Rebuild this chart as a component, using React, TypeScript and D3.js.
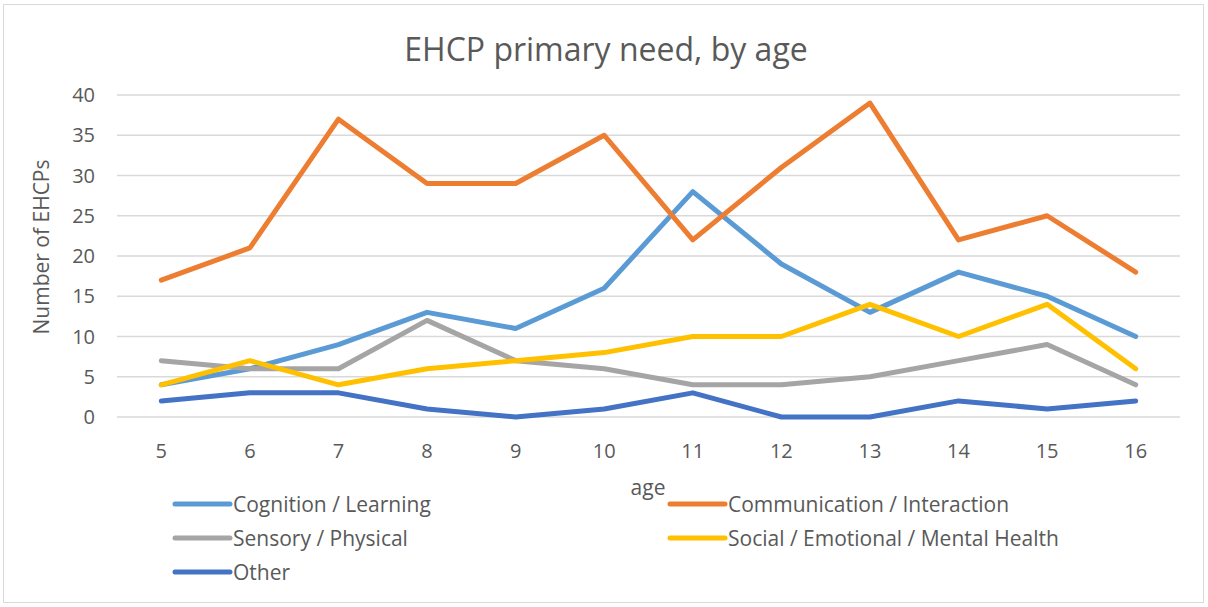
import React from "react";
import * as d3 from "d3";

const ages = [5, 6, 7, 8, 9, 10, 11, 12, 13, 14, 15, 16];
const cognition = [4, 6, 9, 13, 11, 16, 28, 19, 13, 18, 15, 10];
const communication = [17, 21, 37, 29, 29, 35, 22, 31, 39, 22, 25, 18];
const sensory = [7, 6, 6, 12, 7, 6, 4, 4, 5, 7, 9, 4];
const social = [4, 7, 4, 6, 7, 8, 10, 10, 14, 10, 14, 6];
const other = [2, 3, 3, 1, 0, 1, 3, 0, 0, 2, 1, 2];
const yTicks = [0, 5, 10, 15, 20, 25, 30, 35, 40];

const seriesNames = [
  "Cognition / Learning",
  "Communication / Interaction",
  "Sensory / Physical",
  "Social / Emotional / Mental Health",
  "Other",
];
const seriesValues = [cognition, communication, sensory, social, other];
const seriesColors = ["#5B9BD5", "#ED7D31", "#A5A5A5", "#FFC000", "#4472C4"];

const W = 1208;
const H = 607;
const FONT = "'Liberation Sans Narrow', 'Arial Narrow', 'Open Sans', sans-serif";

export default function App() {
  const x = d3
    .scaleBand<number>()
    .domain(ages)
    .range([117, 1180]);
  const y = d3.scaleLinear().domain([0, 40]).range([417, 95]);
  const cx = (a: number) => (x(a) as number) + x.bandwidth() / 2;
  const line = d3
    .line<number>()
    .x((_, i) => cx(ages[i]))
    .y((v) => y(v));

  const legendPos = [
    { x: 175, y: 504 },
    { x: 670, y: 504 },
    { x: 175, y: 538 },
    { x: 670, y: 538 },
    { x: 175, y: 572 },
  ];

  return (
    <svg
      width={W}
      height={H}
      style={{ position: "absolute", left: 0, top: 0, background: "#fff" }}
      fontFamily={FONT}
    >
      <rect x={3.5} y={4.5} width={1200} height={598} fill="#fff" stroke="#d9d9d9" strokeWidth={1} />
      <text x={606} y={61} textAnchor="middle" fontSize={32} fill="#595959">
        EHCP primary need, by age
      </text>
      {yTicks.map((t) => (
        <g key={t}>
          <line x1={117} x2={1180} y1={y(t)} y2={y(t)} stroke="#d9d9d9" strokeWidth={1.3} />
          <text x={95} y={y(t) + 7} textAnchor="end" fontSize={20} fill="#595959">
            {t}
          </text>
        </g>
      ))}
      {ages.map((a) => (
        <text key={a} x={cx(a)} y={458} textAnchor="middle" fontSize={20} fill="#595959">
          {a}
        </text>
      ))}
      <text
        transform={`translate(49,247) rotate(-90)`}
        textAnchor="middle"
        fontSize={21}
        fill="#595959"
      >
        Number of EHCPs
      </text>
      <text x={648} y={495} textAnchor="middle" fontSize={21} fill="#595959">
        age
      </text>
      {seriesValues.map((vals, i) => (
        <path
          key={i}
          d={line(vals) || ""}
          fill="none"
          stroke={seriesColors[i]}
          strokeWidth={5}
          strokeLinejoin="round"
          strokeLinecap="round"
        />
      ))}
      {seriesNames.map((n, i) => (
        <g key={n}>
          <line
            x1={legendPos[i].x}
            x2={legendPos[i].x + 55}
            y1={legendPos[i].y}
            y2={legendPos[i].y}
            stroke={seriesColors[i]}
            strokeWidth={5}
            strokeLinecap="round"
          />
          <text x={legendPos[i].x + 58} y={legendPos[i].y + 7.5} fontSize={21} fill="#595959">
            {n}
          </text>
        </g>
      ))}
    </svg>
  );
}
